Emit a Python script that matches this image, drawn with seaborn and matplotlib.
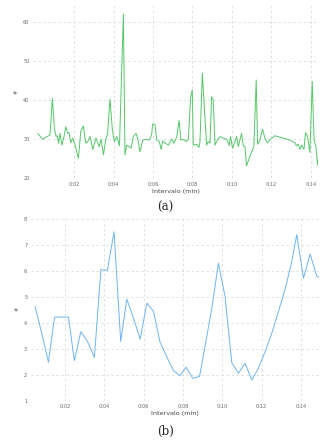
import pandas as pd
import seaborn as sns
import matplotlib.pyplot as plt
from matplotlib.ticker import FuncFormatter

# (a) green series
t_a = [0.16, 0.40, 0.78, 0.90, 1.00, 1.09, 1.15, 1.21, 1.29, 1.38, 1.49, 1.58, 1.68, 1.75,
       1.83, 1.93, 2.05, 2.22, 2.34, 2.47, 2.59, 2.69, 2.81, 2.95, 3.11, 3.27, 3.37, 3.49,
       3.60, 3.70, 3.82, 3.94, 4.04, 4.16, 4.30, 4.50, 4.58, 4.67, 4.80, 4.89, 5.00, 5.14,
       5.22, 5.34, 5.48, 5.65, 5.81, 5.93, 5.98, 6.10, 6.19, 6.32, 6.41, 6.49, 6.61, 6.78,
       6.95, 7.06, 7.20, 7.32, 7.42, 7.54, 7.67, 7.79, 7.91, 7.99, 8.04, 8.21, 8.33, 8.38,
       8.50, 8.63, 8.72, 8.80, 8.89, 8.97, 9.05, 9.14, 9.27, 9.39, 9.56, 9.73, 9.86, 9.93,
       10.03, 10.15, 10.24, 10.32, 10.49, 10.57, 10.66, 10.74, 10.91, 11.11, 11.23, 11.30,
       11.42, 11.55, 11.67, 11.79, 11.96, 12.18, 12.94, 13.19, 13.27, 13.36, 13.44, 13.53,
       13.65, 13.73, 13.83, 13.95, 14.07, 14.16, 14.26, 14.34, 14.37]
v_a = [31.5, 30.0, 31.1, 40.5, 32.8, 30.7, 30.9, 29.0, 31.5, 28.5, 30.7, 33.2, 31.5, 31.7,
       29.1, 30.3, 28.5, 25.1, 32.0, 33.4, 29.0, 29.4, 30.7, 27.4, 30.3, 28.1, 30.0, 26.0,
       29.8, 31.5, 40.3, 32.4, 29.4, 30.7, 28.3, 62.1, 26.0, 28.5, 28.1, 27.7, 30.7, 31.5,
       30.3, 26.8, 29.8, 30.0, 29.8, 31.1, 33.9, 33.8, 29.8, 29.4, 27.4, 29.6, 29.0, 28.5,
       30.0, 29.0, 30.5, 34.8, 29.8, 30.0, 29.4, 30.0, 40.9, 42.6, 28.5, 28.7, 27.9, 29.4,
       46.9, 35.8, 28.5, 29.4, 29.0, 40.9, 40.1, 28.5, 29.8, 30.7, 30.3, 30.0, 28.4, 30.7,
       27.7, 29.4, 30.7, 28.1, 31.5, 28.3, 28.1, 23.2, 25.6, 28.1, 45.2, 28.7,
       29.8, 32.6, 30.3, 29.1, 30.0, 30.9, 29.8, 29.1, 28.3, 28.8, 27.4, 28.5,
       27.4, 31.7, 30.7, 26.6, 44.8, 29.8, 28.1, 23.4, 24.7]

# (b) blue series
t_b = [0.47, 0.81, 1.15, 1.46, 1.80, 2.17, 2.47, 2.80, 3.14, 3.49, 3.82, 4.15, 4.49, 4.83,
       5.14, 5.48, 5.82, 6.16, 6.50, 6.83, 7.17, 7.51, 7.85, 8.16, 8.50, 8.84, 9.18, 9.51,
       9.80, 10.14, 10.48, 10.82, 11.16, 11.50, 11.84, 12.18, 12.52, 12.86, 13.20, 13.54,
       13.79, 14.13, 14.47, 14.81, 14.93]
v_b = [4.63, 3.60, 2.48, 4.22, 4.22, 4.22, 2.54, 3.66, 3.28, 2.67, 6.05, 6.02, 7.51, 3.28,
       4.91, 4.18, 3.37, 4.76, 4.44, 3.25, 2.70, 2.16, 1.97, 2.29, 1.86, 1.93, 3.34, 4.76,
       6.30, 5.02, 2.47, 2.06, 2.44, 1.80, 2.25, 2.89, 3.60, 4.44, 5.30, 6.37,
       7.40, 5.72, 6.65, 5.79, 5.76]

xticks = [2, 4, 6, 8, 10, 12, 14]

df_a = pd.DataFrame({'t': t_a, 'v': v_a})
df_b = pd.DataFrame({'t': t_b, 'v': v_b})

sns.set_style('white')
plt.rcParams['font.family'] = ['DejaVu Sans']

fig = plt.figure(figsize=(3.27, 4.41), dpi=100)
ax1 = fig.add_axes([0.101, 0.5957, 0.872, 0.393])
ax2 = fig.add_axes([0.094, 0.0914, 0.882, 0.4166])

fmt = FuncFormatter(lambda v, p: '0:%02d' % int(round(v)))

for ax, df, col, xl, yl, yt in [
        (ax1, df_a, '#55c768', (-0.08, 14.37), (20, 64.4), [20, 30, 40, 50, 60]),
        (ax2, df_b, '#6db5f5', (0.25, 14.93), (1, 8.08), [1, 2, 3, 4, 5, 6, 7, 8])]:
    sns.lineplot(data=df, x='t', y='v', ax=ax, color=col, linewidth=0.7)
    ax.set_xlim(*xl)
    ax.set_ylim(*yl)
    ax.set_xticks(xticks)
    ax.set_yticks(yt)
    ax.xaxis.set_major_formatter(fmt)
    ax.grid(True, color='#dcdcdc', linestyle=(0, (3, 3)), linewidth=0.6)
    ax.set_axisbelow(True)
    for s in ax.spines.values():
        s.set_visible(False)
    ax.tick_params(length=0, labelsize=3.6, labelcolor='#666666', pad=2.5)
    ax.set_xlabel('Intervalo (min)', fontsize=4.6, color='#444444', labelpad=1.5)
    ax.set_ylabel('#', fontsize=3.6, color='#555555', labelpad=3)

fig.text(0.505, 1 - 207 / 441, '(a)', ha='center', va='center',
         fontsize=8.5, family='DejaVu Serif')
fig.text(0.505, 1 - 431 / 441, '(b)', ha='center', va='center',
         fontsize=8.5, family='DejaVu Serif')

plt.savefig('out.png', dpi=100)
